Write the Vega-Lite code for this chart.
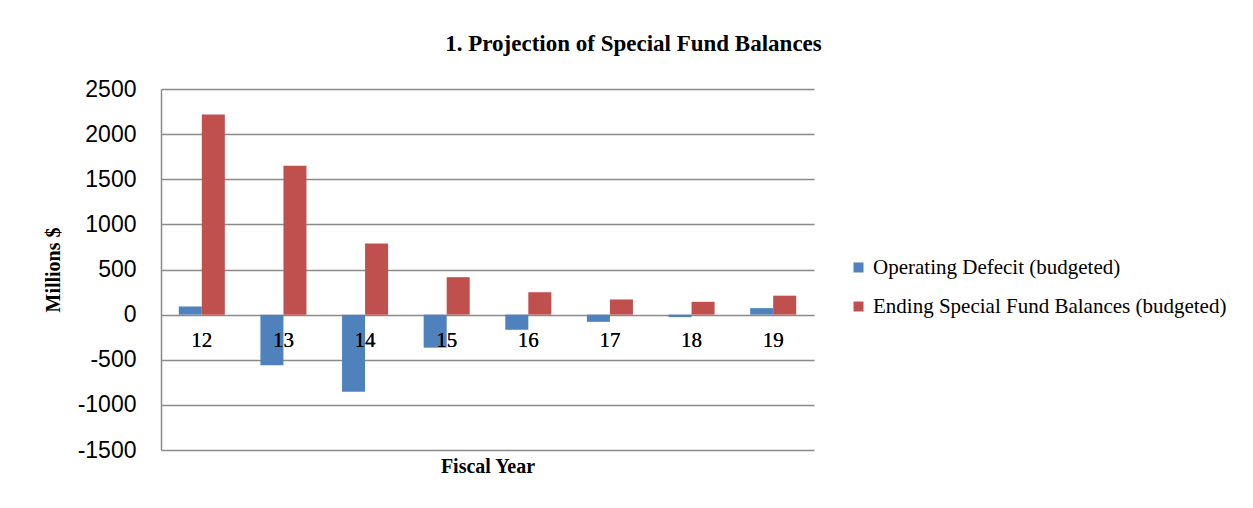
{
  "$schema": "https://vega.github.io/schema/vega-lite/v6.json",
  "width": 653,
  "height": 361,
  "padding": {"left": 43, "top": 33, "right": 5, "bottom": 5},
  "background": "white",
  "title": {
    "text": "1. Projection of Special Fund Balances",
    "font": "Liberation Serif",
    "fontSize": 23,
    "fontWeight": "bold",
    "color": "black",
    "anchor": "middle",
    "dx": 146,
    "offset": 22
  },
  "data": {
    "values": [
      {"year": "12", "series": "Operating Defecit (budgeted)", "value": 90},
      {"year": "13", "series": "Operating Defecit (budgeted)", "value": -562},
      {"year": "14", "series": "Operating Defecit (budgeted)", "value": -855},
      {"year": "15", "series": "Operating Defecit (budgeted)", "value": -366},
      {"year": "16", "series": "Operating Defecit (budgeted)", "value": -168},
      {"year": "17", "series": "Operating Defecit (budgeted)", "value": -80},
      {"year": "18", "series": "Operating Defecit (budgeted)", "value": -28},
      {"year": "19", "series": "Operating Defecit (budgeted)", "value": 72},
      {"year": "12", "series": "Ending Special Fund Balances (budgeted)", "value": 2218},
      {"year": "13", "series": "Ending Special Fund Balances (budgeted)", "value": 1650},
      {"year": "14", "series": "Ending Special Fund Balances (budgeted)", "value": 788},
      {"year": "15", "series": "Ending Special Fund Balances (budgeted)", "value": 415},
      {"year": "16", "series": "Ending Special Fund Balances (budgeted)", "value": 248},
      {"year": "17", "series": "Ending Special Fund Balances (budgeted)", "value": 168},
      {"year": "18", "series": "Ending Special Fund Balances (budgeted)", "value": 142},
      {"year": "19", "series": "Ending Special Fund Balances (budgeted)", "value": 210}
    ]
  },
  "encoding": {
    "x": {
      "field": "year",
      "type": "nominal",
      "sort": null,
      "scale": {"paddingInner": 0.436, "paddingOuter": 0.218},
      "axis": {
        "title": "Fiscal Year",
        "titleFont": "Liberation Serif",
        "titleFontSize": 20,
        "titleFontWeight": "bold",
        "titleColor": "black",
        "titlePadding": 6,
        "labels": false,
        "ticks": false,
        "domain": false,
        "grid": false
      }
    }
  },
  "layer": [
    {
      "mark": {"type": "bar"},
      "encoding": {
        "xOffset": {
          "field": "series",
          "type": "nominal",
          "sort": ["Operating Defecit (budgeted)", "Ending Special Fund Balances (budgeted)"]
        },
        "y": {
          "field": "value",
          "type": "quantitative",
          "scale": {"domain": [-1500, 2500], "nice": false, "zero": false},
          "axis": {
            "title": "Millions $",
            "titleFont": "Liberation Serif",
            "titleFontSize": 20,
            "titleFontWeight": "bold",
            "titleColor": "black",
            "titlePadding": 14,
            "values": [-1500, -1000, -500, 0, 500, 1000, 1500, 2000, 2500],
            "labelExpr": "'' + datum.value",
            "labelFont": "Liberation Sans",
            "labelFontSize": 23,
            "labelColor": "black",
            "labelPadding": 25,
            "ticks": false,
            "domain": true,
            "domainColor": "#8a8a8a",
            "domainWidth": 1.5,
            "grid": true,
            "gridColor": "#8a8a8a",
            "gridWidth": 1.5
          }
        },
        "color": {
          "field": "series",
          "type": "nominal",
          "scale": {
            "domain": ["Operating Defecit (budgeted)", "Ending Special Fund Balances (budgeted)"],
            "range": ["#4F81BD", "#C0504D"]
          },
          "legend": {
            "title": null,
            "orient": "none",
            "legendX": 687,
            "legendY": 168,
            "padding": 0,
            "symbolType": "square",
            "symbolSize": 100,
            "symbolStrokeWidth": 0,
            "symbolOpacity": 1,
            "labelFont": "Liberation Serif",
            "labelFontSize": 21,
            "labelColor": "black",
            "labelOffset": 4,
            "rowPadding": 17,
            "labelLimit": 0
          }
        }
      }
    },
    {
      "mark": {
        "type": "text",
        "font": "Liberation Serif",
        "fontSize": 21,
        "color": "black",
        "baseline": "middle",
        "dy": 26
      },
      "encoding": {
        "text": {"field": "year"},
        "y": {"datum": 0}
      }
    }
  ],
  "config": {
    "view": {"stroke": null}
  }
}
